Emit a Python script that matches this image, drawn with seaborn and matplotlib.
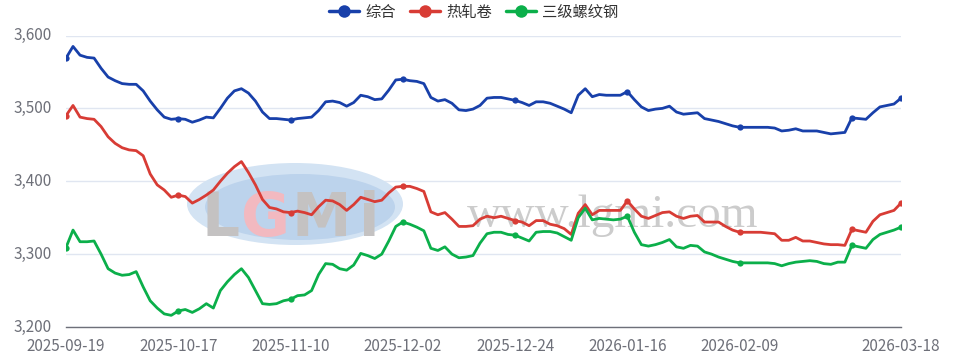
import numpy as np
import pandas as pd
import seaborn as sns
import matplotlib.pyplot as plt
from matplotlib.lines import Line2D
from matplotlib.patches import Ellipse
from matplotlib.ticker import FuncFormatter

# daily index values (120 trading days)
composite = [
    3569, 3585, 3573, 3570, 3569, 3555, 3543, 3538, 3534, 3533,
    3533, 3524, 3510, 3498, 3488, 3485, 3486, 3485, 3481, 3484,
    3488, 3487, 3500, 3514, 3524, 3527, 3521, 3510, 3495, 3486,
    3486, 3485, 3484, 3486, 3487, 3488, 3497, 3509, 3510, 3508,
    3503, 3508, 3518, 3516, 3512, 3513, 3525, 3539, 3540, 3538,
    3537, 3534, 3515, 3510, 3512, 3507, 3498, 3497, 3499, 3504,
    3514, 3515, 3515, 3513, 3511, 3508, 3504, 3509, 3509, 3507,
    3503, 3499, 3494, 3518, 3527, 3516, 3519, 3518, 3518, 3518,
    3523, 3512, 3502, 3497, 3499, 3500, 3503, 3495, 3492, 3493,
    3494, 3486, 3484, 3482, 3479, 3476, 3474, 3474, 3474, 3474,
    3474, 3473, 3469, 3470, 3472, 3469, 3469, 3469, 3467, 3465,
    3466, 3467, 3487, 3486, 3485, 3494, 3502, 3504, 3506, 3514,
]
hot_rolled = [
    3490, 3504, 3488, 3486, 3485, 3475, 3461, 3452, 3446, 3443,
    3442, 3435, 3410, 3395, 3388, 3378, 3381, 3379, 3370, 3375,
    3381, 3388, 3400, 3411, 3420, 3427, 3412, 3395, 3375, 3364,
    3362, 3358, 3357, 3359, 3357, 3354, 3365, 3374, 3373, 3368,
    3360, 3368, 3378, 3375, 3372, 3374, 3384, 3392, 3393, 3393,
    3390, 3386, 3358, 3354, 3357, 3348, 3338, 3338, 3339, 3348,
    3352, 3350, 3352, 3349, 3346, 3344, 3339, 3346, 3346, 3341,
    3339, 3335, 3327, 3356, 3368, 3354, 3360, 3360, 3360, 3360,
    3373, 3362, 3352, 3349, 3353, 3357, 3358, 3352, 3349, 3352,
    3353, 3344, 3344, 3344, 3338, 3333, 3330, 3330, 3330, 3330,
    3329, 3328, 3319, 3319, 3323, 3318, 3318, 3316, 3314, 3313,
    3313, 3312, 3334, 3332, 3330, 3345, 3354, 3357, 3360, 3370,
]
rebar = [
    3309, 3333, 3317, 3317, 3318, 3300, 3280, 3274, 3271, 3272,
    3276, 3255, 3236, 3226, 3218, 3216, 3222, 3224, 3220, 3225,
    3232, 3226, 3250, 3262, 3272, 3280, 3268, 3250, 3232, 3231,
    3232, 3236, 3238, 3243, 3244, 3250, 3272, 3287, 3286, 3280,
    3278, 3285, 3301, 3298, 3294, 3300, 3318, 3338, 3344, 3341,
    3337, 3332, 3308, 3305, 3310, 3300, 3295, 3296, 3298, 3315,
    3328, 3330, 3330, 3327, 3326, 3322, 3318, 3330, 3331, 3331,
    3329, 3324, 3319, 3350, 3363, 3347, 3349, 3348, 3347, 3348,
    3352, 3330, 3313, 3311, 3313, 3316, 3320, 3310, 3308, 3312,
    3311, 3303, 3300, 3296, 3293, 3290, 3288, 3288, 3288, 3288,
    3288, 3287, 3284, 3287, 3289, 3290, 3291, 3290, 3287, 3286,
    3289, 3289, 3312, 3310, 3308, 3320, 3327, 3330, 3333, 3337,
]
series_names = ["综合", "热轧卷", "三级螺纹钢"]
tick_idx = [0, 16, 32, 48, 64, 80, 96, 119]
tick_labels = ["2025-09-19", "2025-10-17", "2025-11-10", "2025-12-02",
               "2025-12-24", "2026-01-16", "2026-02-09", "2026-03-18"]
marker_idx = [0, 16, 32, 48, 64, 80, 96, 112, 119]

colors = ["#1840AA", "#D83C35", "#0BAF4A"]
grey = "#6E7079"

sns.set_theme(style="white")
plt.rcParams["font.family"] = ["Noto Sans CJK SC", "DejaVu Sans"]

fig = plt.figure(figsize=(9.57, 3.59), dpi=100)
ax = fig.add_axes([66 / 957, 1 - 327 / 359, 835 / 957, 291.5 / 359])

# watermark (logo + site text), behind the lines
ax.add_patch(Ellipse((295 / 957, 1 - 204 / 359), 216 / 957, 82 / 359,
                     transform=fig.transFigure, facecolor="#D3E3F3",
                     edgecolor="none", zorder=1))
ax.add_patch(Ellipse((300 / 957, 1 - 207 / 359), 190 / 957, 66 / 359,
                     transform=fig.transFigure, facecolor="#BCD3EC",
                     edgecolor="none", zorder=1))
for ch, xp, col in [("L", 221, "#C4C2C2"), ("G", 265, "#F2B9C0"),
                    ("M", 321, "#C4C2C2"), ("i", 369, "#C4C2C2")]:
    ax.text(xp / 957, 1 - 236 / 359, ch, transform=fig.transFigure,
            ha="center", va="baseline", fontsize=43, fontweight="bold",
            color=col, family="DejaVu Sans", zorder=1)
ax.text(613 / 957, 1 - 227 / 359, "www.lgmi.com", transform=fig.transFigure,
        ha="center", va="baseline", fontsize=34, color="#CCCCCC",
        family="Liberation Serif", zorder=1)

x = np.arange(len(composite))
for name, vals, col in zip(series_names, [composite, hot_rolled, rebar], colors):
    df = pd.DataFrame({"idx": x, "value": vals})
    sns.lineplot(data=df, x="idx", y="value", ax=ax, color=col, linewidth=2.0,
                 marker="o", markevery=marker_idx, markersize=4.5,
                 markeredgewidth=0, zorder=3, legend=False)

ax.set_xlim(0, len(composite) - 1)
ax.set_ylim(3200, 3600)
ax.set_yticks([3200, 3300, 3400, 3500, 3600])
ax.yaxis.set_major_formatter(FuncFormatter(lambda v, p: f"{int(v):,}"))
ax.set_xticks(tick_idx)
ax.set_xticklabels(tick_labels)
ax.set_xlabel("")
ax.set_ylabel("")

ax.grid(axis="y", color="#E0E6F1", linewidth=1)
ax.set_axisbelow(True)
for side in ["top", "right", "left"]:
    ax.spines[side].set_visible(False)
ax.spines["bottom"].set_color(grey)
ax.spines["bottom"].set_linewidth(1)
ax.tick_params(axis="x", colors=grey, labelsize=11, length=5, width=1,
               direction="out", pad=3, labelcolor=grey)
ax.tick_params(axis="y", length=0, labelsize=11, pad=10, labelcolor=grey)
for lab in ax.get_yticklabels():
    lab.set_verticalalignment("center")

handles = [Line2D([0], [0], color=c, linewidth=2.5, marker="o",
                  markersize=9, markeredgewidth=0) for c in colors]
fig.legend(handles, series_names, loc="center", bbox_to_anchor=(0.495, 0.966),
           ncol=3, frameon=False, fontsize=11, handlelength=2.0,
           handletextpad=0.4, columnspacing=0.9, labelcolor="#333333")

fig.savefig("out.png", dpi=100)
